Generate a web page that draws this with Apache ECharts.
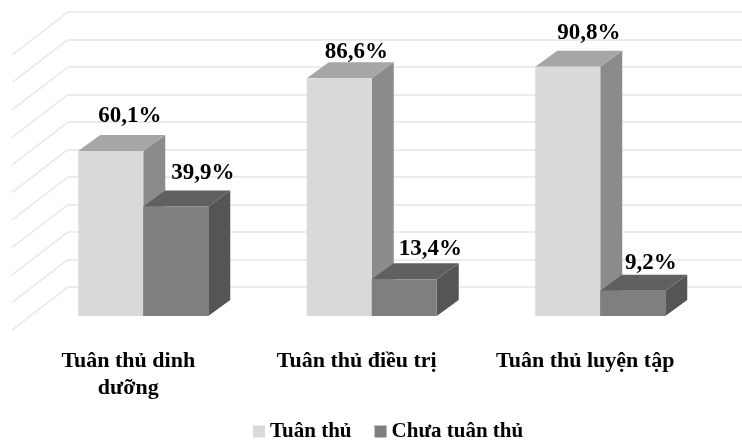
<!DOCTYPE html>
<html>
<head>
<meta charset="utf-8">
<style>html,body{margin:0;padding:0;background:#fff}#chart{width:742px;height:441px}</style>
<script src="https://cdn.jsdelivr.net/npm/echarts@6/dist/echarts.min.js"></script>
</head>
<body>
<div id="chart"></div>
<script>
const categories = ['Tuân thủ dinh\ndưỡng', 'Tuân thủ điều trị', 'Tuân thủ luyện tập'];
const compliant = [60.1, 86.6, 90.8];
const nonCompliant = [39.9, 13.4, 9.2];
const wallTicks = [0, 10, 20, 30, 40, 50, 60, 70, 80, 90, 100];

// Pseudo-3D geometry, in pixels
const DEPTH_X = 22, DEPTH_Y = 16, BAR_W = 65;
const WALL_DX = -56, WALL_DY = 43;
const FONT = '"Liberation Serif", "Times New Roman", serif';
const labelShift = {
  compliant: [[19, -35], [17, -26], [21, -34]],
  nonCompliant: [[27, -33], [26, -30], [18, -28]]
};

function fmt(v) { return v.toFixed(1).replace('.', ',') + '%'; }

function barRenderer(side, colors, shifts) {
  return function (params, api) {
    const i = api.value(0), v = api.value(1);
    const top = api.coord([i, v]);
    const base = api.coord([i, 0]);
    const x0 = side < 0 ? top[0] - BAR_W : top[0];
    const x1 = x0 + BAR_W;
    const y = top[1], b = base[1];
    const shift = shifts[i];
    return {
      type: 'group',
      children: [
        { type: 'polygon', shape: { points: [[x1, y], [x1 + DEPTH_X, y - DEPTH_Y], [x1 + DEPTH_X, b - DEPTH_Y], [x1, b]] },
          style: { fill: colors.side } },
        { type: 'polygon', shape: { points: [[x0, y], [x0 + DEPTH_X, y - DEPTH_Y], [x1 + DEPTH_X, y - DEPTH_Y], [x1, y]] },
          style: { fill: colors.top } },
        { type: 'rect', shape: { x: x0, y: y, width: BAR_W, height: b - y },
          style: { fill: colors.front } },
        { type: 'text', x: (x0 + x1) / 2 + shift[0], y: y + shift[1],
          style: { text: fmt(v), fill: '#000', font: 'bold 23px ' + FONT, textAlign: 'center', textVerticalAlign: 'middle' } }
      ]
    };
  };
}

const chart = echarts.init(document.getElementById('chart'), null, { renderer: 'canvas' });
chart.setOption({
  animation: false,
  backgroundColor: '#fff',
  legend: {
    bottom: -6,
    left: 248,
    itemWidth: 12,
    itemHeight: 12,
    itemGap: 23,
    icon: 'rect',
    textStyle: { fontFamily: FONT, fontWeight: 'bold', fontSize: 21, color: '#000' },
    data: ['Tuân thủ', 'Chưa tuân thủ']
  },
  grid: [
    // front plane holding the bars
    { left: 29, width: 685.5, top: 41.5, height: 274.5 },
    // back wall with the horizontal rules
    { left: 68, right: 0, top: 12, height: 275 }
  ],
  xAxis: [
    {
      type: 'category', gridIndex: 0, data: categories,
      axisLine: { show: false }, axisTick: { show: false },
      axisLabel: {
        interval: 0, margin: 32, lineHeight: 27, padding: [0, 30, 0, 0],
        color: '#000', fontFamily: FONT, fontWeight: 'bold', fontSize: 22
      }
    },
    { type: 'value', gridIndex: 1, min: 0, max: 1, show: false }
  ],
  yAxis: [
    { type: 'value', gridIndex: 0, min: 0, max: 100, show: false },
    {
      type: 'value', gridIndex: 1, min: 0, max: 100, interval: 10,
      axisLine: { show: false }, axisTick: { show: false }, axisLabel: { show: false },
      splitLine: { show: true, lineStyle: { color: '#e6e6e6', width: 1.5 } }
    }
  ],
  series: [
    {
      // slanted rules on the left side wall
      type: 'custom', xAxisIndex: 1, yAxisIndex: 1, silent: true, z: 1,
      data: wallTicks.map(t => [0, t]),
      encode: { x: 0, y: 1 },
      renderItem: function (params, api) {
        const p = api.coord([0, api.value(1)]);
        return {
          type: 'line',
          shape: { x1: p[0], y1: p[1], x2: p[0] + WALL_DX, y2: p[1] + WALL_DY },
          style: { stroke: '#e6e6e6', lineWidth: 1.5 }
        };
      }
    },
    {
      name: 'Tuân thủ', type: 'custom', xAxisIndex: 0, yAxisIndex: 0, z: 3,
      itemStyle: { color: '#d9d9d9' },
      data: compliant.map((v, i) => [i, v]),
      encode: { x: 0, y: 1 },
      renderItem: barRenderer(-1, { front: '#d9d9d9', top: '#a6a6a6', side: '#8b8b8b' }, labelShift.compliant)
    },
    {
      name: 'Chưa tuân thủ', type: 'custom', xAxisIndex: 0, yAxisIndex: 0, z: 4,
      itemStyle: { color: '#7f7f7f' },
      data: nonCompliant.map((v, i) => [i, v]),
      encode: { x: 0, y: 1 },
      renderItem: barRenderer(1, { front: '#7f7f7f', top: '#5f605f', side: '#555555' }, labelShift.nonCompliant)
    }
  ]
});
</script>
</body>
</html>
